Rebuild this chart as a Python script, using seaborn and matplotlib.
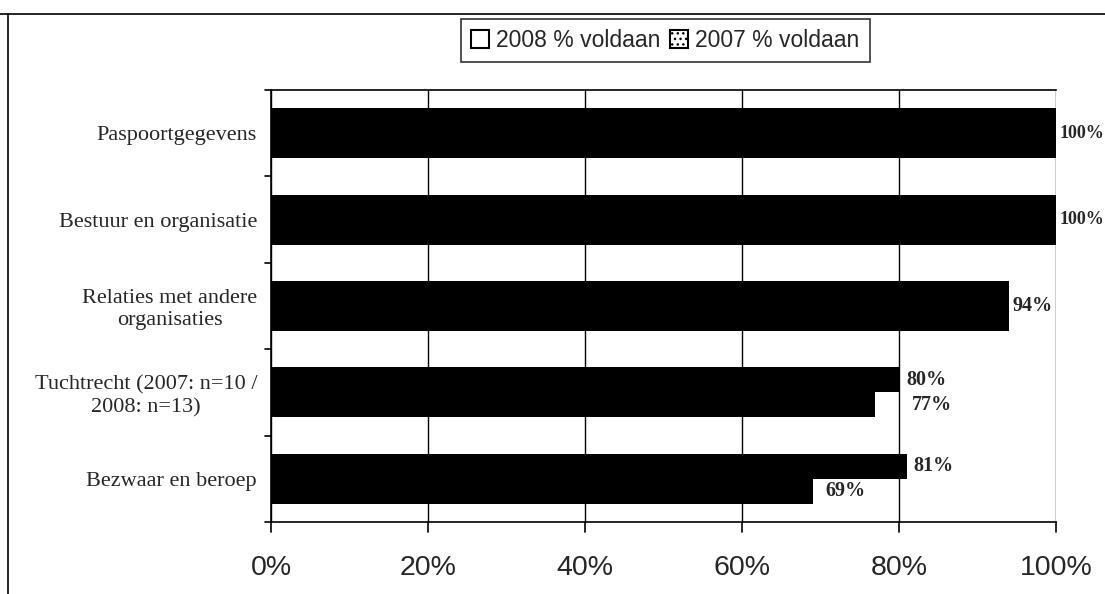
import pandas as pd
import seaborn as sns
import matplotlib.pyplot as plt
from matplotlib.patches import Patch
from matplotlib.lines import Line2D

# data
categories = ['Paspoortgegevens', 'Bestuur en organisatie',
              'Relaties met andere\norganisaties',
              'Tuchtrecht (2007: n=10 /\n2008: n=13)',
              'Bezwaar en beroep']
years = ['2008 % voldaan', '2007 % voldaan']
values_2008 = [100, 100, 94, 80, 81]
values_2007 = [100, 100, 94, 77, 69]
xticks = [0, 20, 40, 60, 80, 100]

df = pd.DataFrame({
    'categorie': categories * 2,
    'jaar': [years[0]] * len(categories) + [years[1]] * len(categories),
    'waarde': values_2008 + values_2007,
})

sns.set_theme(style='white')
plt.rcParams['font.family'] = ['Liberation Sans', 'DejaVu Sans']

fig = plt.figure(figsize=(11.05, 5.94), dpi=100)
ax = fig.add_axes([0.2452, 0.1212, 0.7105, 0.7273])

sns.barplot(data=df, y='categorie', x='waarde', hue='jaar', order=categories,
            hue_order=years, palette=['black', 'black'], orient='h',
            width=0.58, saturation=1, legend=False, ax=ax, edgecolor='black',
            linewidth=0)

ax.set_xlim(0, 100)
ax.set_ylim(len(categories) - 0.5, -0.5)
ax.set_xticks(xticks)
ax.set_xticklabels([f'{t}%' for t in xticks], fontsize=20.5)
ax.set_xlabel('')
ax.set_ylabel('')
ax.set_yticks(range(len(categories)))
ax.set_yticklabels(categories, fontsize=16, family='Liberation Serif',
                   multialignment='center')
ax.tick_params(axis='y', length=0, pad=10)
ax.tick_params(axis='x', length=0, pad=24)

# category boundary ticks on the left spine
for b in range(len(categories) + 1):
    ax.plot([-0.7, 0], [b - 0.5, b - 0.5], color='black', lw=1.2,
            clip_on=False)
for t in xticks:
    ax.plot([t, t], [len(categories) - 0.5, len(categories) - 0.38],
            color='black', lw=1.2, clip_on=False)

ax.grid(axis='x', color='black', linewidth=1)
ax.set_axisbelow(False)
for side in ['left', 'bottom', 'top']:
    ax.spines[side].set_color('black')
    ax.spines[side].set_linewidth(1.2)
ax.spines['right'].set_visible(False)

# value labels
lab = dict(textcoords='offset points', va='center', ha='left',
           family='Liberation Serif', fontweight='bold')
for i in range(len(categories)):
    a, b = values_2008[i], values_2007[i]
    if a == b:
        # full-width bars: smaller label so it stays inside the page
        size = 13 if a >= 100 else 14.5
        ax.annotate(f'{a}%', (a, i), xytext=(2.5, 0), fontsize=size, **lab)
        continue
    ax.annotate(f'{a}%', (a, i - 0.145), xytext=(5, 0), fontsize=14.5, **lab)
    xb = max(a, b) if abs(a - b) < 5 else b
    ax.annotate(f'{b}%', (xb, i + 0.145), xytext=(9, 0), fontsize=14.5, **lab)

handles = [Patch(facecolor='white', edgecolor='black', linewidth=1.5),
           Patch(facecolor='white', edgecolor='black', linewidth=1.5,
                 hatch='...')]
leg = fig.legend(handles, years, loc='center', bbox_to_anchor=(0.602, 0.932),
                 ncol=2, fontsize=16.5, frameon=True, fancybox=False,
                 edgecolor='black', handlelength=0.8, handleheight=0.8,
                 handletextpad=0.3, columnspacing=0.4, borderpad=0.45,
                 borderaxespad=0)
leg.get_frame().set_linewidth(1.2)

# page border lines from the scan
fig.add_artist(Line2D([0, 1], [1 - 14 / 594, 1 - 14 / 594], color='black',
                      lw=1.2, transform=fig.transFigure))
fig.add_artist(Line2D([8 / 1105, 8 / 1105], [0, 1 - 14 / 594], color='black',
                      lw=1.2, transform=fig.transFigure))

fig.savefig('out.png', dpi=100, facecolor='white')
